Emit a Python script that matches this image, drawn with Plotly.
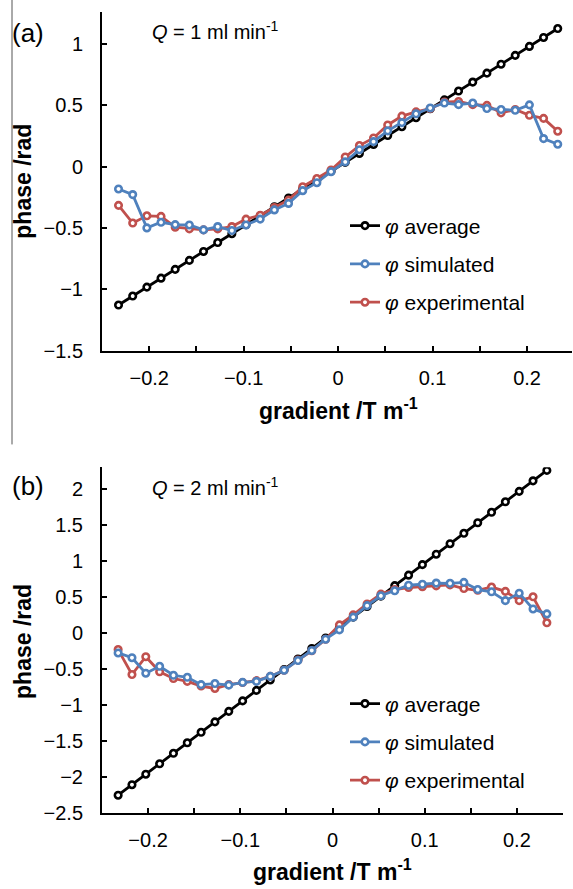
import plotly.graph_objects as go

# ---------------- data ----------------
gradient = [-0.2325, -0.2175, -0.2025, -0.1875, -0.1725, -0.1575, -0.1425, -0.1275,
            -0.1125, -0.0975, -0.0825, -0.0675, -0.0525, -0.0375, -0.0225, -0.0075,
            0.0075, 0.0225, 0.0375, 0.0525, 0.0675, 0.0825, 0.0975, 0.1125,
            0.1275, 0.1425, 0.1575, 0.1725, 0.1875, 0.2025, 0.2175, 0.2325]

# panel (a) Q = 1 ml/min
a_average = [-1.128, -1.055, -0.982, -0.909, -0.837, -0.764, -0.691, -0.618,
             -0.546, -0.473, -0.400, -0.327, -0.255, -0.182, -0.109, -0.036,
             0.036, 0.109, 0.182, 0.255, 0.327, 0.400, 0.473, 0.546,
             0.618, 0.691, 0.764, 0.837, 0.909, 0.982, 1.055, 1.128]
a_simulated = [-0.181, -0.227, -0.499, -0.453, -0.472, -0.475, -0.515, -0.488,
               -0.520, -0.475, -0.427, -0.352, -0.299, -0.195, -0.130, -0.040,
               0.040, 0.139, 0.205, 0.293, 0.360, 0.432, 0.480, 0.520,
               0.507, 0.520, 0.475, 0.467, 0.461, 0.505, 0.230, 0.184]
a_experimental = [-0.315, -0.459, -0.400, -0.405, -0.493, -0.507, -0.515, -0.507,
                  -0.488, -0.427, -0.395, -0.333, -0.272, -0.163, -0.096, -0.027,
                  0.080, 0.173, 0.235, 0.341, 0.413, 0.448, 0.475, 0.528,
                  0.533, 0.507, 0.501, 0.440, 0.467, 0.420, 0.395, 0.290]

# panel (b) Q = 2 ml/min
b_average = [-2.255, -2.110, -1.964, -1.819, -1.673, -1.528, -1.382, -1.237,
             -1.091, -0.946, -0.800, -0.655, -0.509, -0.364, -0.218, -0.073,
             0.073, 0.218, 0.364, 0.509, 0.655, 0.800, 0.946, 1.091,
             1.237, 1.382, 1.528, 1.673, 1.819, 1.964, 2.110, 2.255]
b_simulated = [-0.280, -0.346, -0.561, -0.465, -0.590, -0.618, -0.720, -0.705,
               -0.727, -0.689, -0.675, -0.606, -0.520, -0.385, -0.245, -0.089,
               0.040, 0.217, 0.377, 0.514, 0.583, 0.660, 0.674, 0.690,
               0.687, 0.700, 0.600, 0.569, 0.446, 0.550, 0.331, 0.262]
b_experimental = [-0.233, -0.580, -0.332, -0.542, -0.635, -0.675, -0.740, -0.773,
                  -0.720, -0.690, -0.665, -0.606, -0.520, -0.380, -0.250, -0.089,
                  0.110, 0.248, 0.400, 0.537, 0.600, 0.628, 0.640, 0.652,
                  0.665, 0.614, 0.590, 0.635, 0.575, 0.446, 0.500, 0.139]

x_tickvals = [-0.2, -0.1, 0, 0.1, 0.2]
x_ticktext = ["\u22120.2", "\u22120.1", "0", "0.1", "0.2"]
a_y_tickvals = [-1.5, -1, -0.5, 0, 0.5, 1]
a_y_ticktext = ["\u22121.5", "\u22121", "\u22120.5", "0", "0.5", "1"]
b_y_tickvals = [-2.5, -2, -1.5, -1, -0.5, 0, 0.5, 1, 1.5, 2]
b_y_ticktext = ["\u22122.5", "\u22122", "\u22121.5", "\u22121", "\u22120.5", "0", "0.5", "1", "1.5", "2"]

series_names = ["<i>\u03c6</i> average", "<i>\u03c6</i> simulated", "<i>\u03c6</i> experimental"]
colors = ["#000000", "#4F81BD", "#C0504D"]

x_title = "<b>gradient /T m<sup>-1</sup></b>"
y_title = "<b>phase /rad</b>"

FONT = "Liberation Sans, Arial, sans-serif"
W, H = 573, 889

fig = go.Figure()

def add_series(x, y, name, color, xa, ya, legend, rank):
    fig.add_trace(go.Scatter(
        x=x, y=y, mode="lines+markers", name=name,
        line=dict(color=color, width=2.8),
        marker=dict(symbol="circle", size=6.5, color="white",
                    line=dict(color=color, width=2.6)),
        xaxis=xa, yaxis=ya, legend=legend, legendgroup=legend + name,
        legendrank=rank, showlegend=True,
    ))

# draw order: average, experimental, simulated (blue on top)
add_series(gradient, a_average, series_names[0], colors[0], "x", "y", "legend", 1)
add_series(gradient, a_experimental, series_names[2], colors[2], "x", "y", "legend", 3)
add_series(gradient, a_simulated, series_names[1], colors[1], "x", "y", "legend", 2)
add_series(gradient, b_average, series_names[0], colors[0], "x2", "y2", "legend2", 1)
add_series(gradient, b_experimental, series_names[2], colors[2], "x2", "y2", "legend2", 3)
add_series(gradient, b_simulated, series_names[1], colors[1], "x2", "y2", "legend2", 2)

def px_x(p):
    return p / W

def px_y(p):
    return 1 - p / H

axis_common = dict(
    showline=True, linecolor="black", linewidth=2, mirror=False,
    showgrid=False, zeroline=False,
    ticks="inside", ticklen=5, tickwidth=2, tickcolor="black",
    tickfont=dict(family=FONT, size=20, color="black"),
)
minor_x = dict(dtick=0.05, tick0=0, ticks="inside", ticklen=5, tickwidth=2, tickcolor="black")

legend_common = dict(xanchor="left", yanchor="top", bgcolor="rgba(0,0,0,0)",
                     font=dict(family=FONT, size=21, color="black"),
                     tracegroupgap=8, traceorder="grouped", itemwidth=30)

fig.update_layout(
    width=W, height=H,
    margin=dict(l=0, r=0, t=0, b=0),
    paper_bgcolor="white", plot_bgcolor="white",
    font=dict(family=FONT, color="black"),
    xaxis=dict(domain=[px_x(102), px_x(572)], range=[-0.25, 0.2476], anchor="y",
               tickvals=x_tickvals, ticktext=x_ticktext, minor=minor_x, ticklabelstandoff=8,
               **axis_common),
    yaxis=dict(domain=[px_y(355), px_y(12)], range=[-1.5, 1.264], anchor="x",
               tickvals=a_y_tickvals, ticktext=a_y_ticktext, ticklabelstandoff=13,
               **axis_common),
    xaxis2=dict(domain=[px_x(102), px_x(563)], range=[-0.25, 0.25], anchor="y2",
                tickvals=x_tickvals, ticktext=x_ticktext, minor=minor_x, ticklabelstandoff=8,
                **axis_common),
    yaxis2=dict(domain=[px_y(823), px_y(473)], range=[-2.5, 2.30], anchor="x2",
                tickvals=b_y_tickvals, ticktext=b_y_ticktext, ticklabelstandoff=13,
                **axis_common),
    legend=dict(x=px_x(345), y=px_y(208), **legend_common),
    legend2=dict(x=px_x(345), y=px_y(692), **legend_common),
    showlegend=True,
)

annos = [
    dict(text="<i>Q</i> = 1 ml min<sup>-1</sup>", x=150, y=31, size=20, anchor="left", angle=0),
    dict(text="<i>Q</i> = 2 ml min<sup>-1</sup>", x=150, y=493, size=20, anchor="left", angle=0),
    dict(text="(a)", x=10, y=33, size=26, anchor="left", angle=0),
    dict(text="(b)", x=10, y=492, size=26, anchor="left", angle=0),
    dict(text=x_title, x=338, y=414, size=23, anchor="center", angle=0),
    dict(text=x_title, x=332, y=881, size=23, anchor="center", angle=0),
    dict(text=y_title, x=23, y=184, size=23, anchor="center", angle=-90),
    dict(text=y_title, x=23, y=650, size=23, anchor="center", angle=-90),
]
for a in annos:
    fig.add_annotation(text=a["text"], x=px_x(a["x"]), y=px_y(a["y"]), xref="paper", yref="paper",
                       xanchor=a["anchor"], yanchor="middle", showarrow=False, textangle=a["angle"],
                       font=dict(family=FONT, size=a["size"], color="black"))

# thin frame line at the left edge of panel (a)
fig.add_shape(type="line", xref="paper", yref="paper",
              x0=px_x(12), x1=px_x(12), y0=px_y(0), y1=px_y(450),
              line=dict(color="#555555", width=1))

# remove the default 8px page margin so the figure sits at the window's corner
fig.write_html("out.html", config={"displayModeBar": False},
               post_script="document.body.style.margin='0';")
